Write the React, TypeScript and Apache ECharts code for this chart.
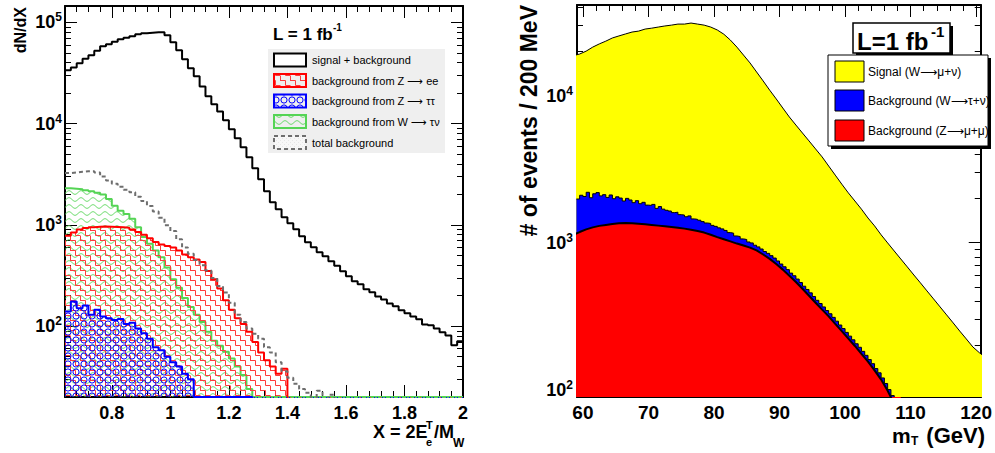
import React, { useEffect, useRef } from "react";
import * as echarts from "echarts";

const FONT = '"Liberation Sans", "DejaVu Sans", Arial, Helvetica, sans-serif';

// ---------------- Left panel: X = 2E_T/M_W, histogram bins of 0.02 starting at 0.64 ----------------
const leftBinStart = 0.64;
const leftBinWidth = 0.02;
const leftSignalBkg = [
  33600, 35900, 39400, 43700, 47200, 52400, 58000, 60700, 64300, 68000,
  70300, 72800, 76300, 77900, 78800, 79700, 79700, 74400, 63500, 52900,
  43200, 35200, 29300, 23300, 18600, 15500, 13200, 10800, 8790, 7160,
  5840, 4650, 3620, 2820, 2150, 1670, 1430, 1190, 1040, 906,
  772, 674, 601, 537, 490, 437, 395, 348, 311, 278,
  259, 231, 216, 197, 184, 168, 157, 144, 134, 125,
  117, 104, 102, 95, 87, 81, 65, 71,
];
const leftBkgZee = [
  780, 840, 900, 930, 950, 960, 965, 960, 955, 950,
  940, 900, 850, 800, 740, 680, 640, 620, 600, 560,
  510, 480, 455, 430, 350, 290, 235, 180, 145, 120,
  105, 88, 70, 55, 46, 40, 34, 38, 0, 0,
  0, 0, 0, 0, 0, 0, 0, 0, 0, 0,
  0, 0, 0, 0, 0, 0, 0, 0, 0, 0,
  0, 0, 0, 0, 0, 0, 0, 0,
];
const leftBkgZtautau = [
  140, 175, 150, 160, 130, 145, 125, 120, 115, 118,
  105, 108, 95, 85, 75, 62, 58, 50, 44, 40,
  34, 30, 20, 20, 20, 20, 20, 20, 20, 20,
  20, 20, 0, 0, 0, 0, 0, 0, 0, 0,
  0, 0, 0, 0, 0, 0, 0, 0, 0, 0,
  0, 0, 0, 0, 0, 0, 0, 0, 0, 0,
  0, 0, 0, 0, 0, 0, 0, 0,
];
const leftBkgWtaunu = [
  2300, 2280, 2250, 2200, 2150, 2080, 2000, 1800, 1550, 1380,
  1280, 1150, 950, 760, 650, 560, 480, 380, 290, 240,
  190, 155, 130, 110, 88, 72, 64, 56, 48, 40,
  33, 24, 20, 20, 20, 20, 20, 20, 20, 20,
  20, 20, 20, 20, 20, 20, 20, 20, 20, 20,
  20, 20, 20, 20, 20, 20, 20, 20, 20, 20,
  20, 20, 20, 20, 20, 20, 20, 20,
];
const leftTotalBkg = [
  3250, 3300, 3350, 3380, 3380, 3300, 3000, 2750, 2550, 2380,
  2220, 2100, 1900, 1720, 1540, 1360, 1180, 990, 870, 720,
  600, 520, 450, 400, 355, 300, 250, 215, 170, 130,
  110, 95, 84, 75, 62, 55, 44, 36, 31, 27,
  24, 22, 0, 23, 0, 21, 0, 0, 0, 0,
  0, 0, 0, 0, 0, 0, 0, 0, 0, 0,
  0, 0, 0, 0, 0, 0, 0, 0,
];
const leftXRange = [0.64, 2.0];
const leftYRange = [20, 145000];
const leftXTicks = [0.8, 1, 1.2, 1.4, 1.6, 1.8, 2];
const leftXMinorTicks = [
  0.68, 0.72, 0.76, 0.84, 0.88, 0.92, 0.96, 1.04, 1.08, 1.12, 1.16, 1.24, 1.28, 1.32,
  1.36, 1.44, 1.48, 1.52, 1.56, 1.64, 1.68, 1.72, 1.76, 1.84, 1.88, 1.92, 1.96,
];
const leftYDecades = [2, 3, 4, 5];

// ---------------- Right panel: m_T (GeV), stacked ----------------
const rightCurveStart = 58.5; // bin centres, 1 GeV apart
const rightCurveStep = 1;
const rightSignalTotal = [
  18700, 19200, 20100, 21400, 22500, 23500, 24700, 25500, 26300, 27100,
  27500, 28400, 28800, 29300, 29800, 30200, 30700, 30700, 31200, 30700,
  30200, 29300, 28000, 26200, 23900, 21400, 18900, 16700, 14500, 12600,
  10900, 9500, 8240, 7160, 6310, 5570, 4920, 4340, 3830, 3320,
  2880, 2500, 2180, 1920, 1690, 1470, 1300, 1130, 995, 877,
  774, 683, 602, 532, 469, 414, 365, 322, 284, 250,
  221, 195, 178, 165,
];
const rightBkgZmumu = [
  1130, 1180, 1230, 1270, 1300, 1320, 1340, 1355, 1360, 1355,
  1345, 1335, 1320, 1305, 1290, 1275, 1260, 1245, 1225, 1200,
  1170, 1130, 1090, 1055, 1020, 985, 955, 925, 885, 830,
  775, 715, 655, 595, 540, 485, 435, 390, 350, 315,
  280, 250, 222, 198, 175, 155, 135, 117, 98, 80,
  40,
];
const rightStackStart = 59.0; // bin edges, 0.5 GeV wide
const rightStackStep = 0.5;
const rightBkgWtaunuStacked = [
  1980, 2100, 2060, 2200, 2020, 2150, 2190, 2080, 2120, 2030,
  2110, 1990, 2050, 2010, 1920, 2000, 1950, 1870, 1930, 1840,
  1880, 1800, 1790, 1820, 1710, 1760, 1690, 1660, 1640, 1600,
  1610, 1550, 1540, 1500, 1520, 1450, 1440, 1420, 1390, 1360,
  1350, 1310, 1290, 1260, 1240, 1210, 1170, 1160, 1110, 1100,
  1060, 1050, 1010, 995, 960, 935, 905, 870, 845, 815,
  785, 750, 715, 685, 655, 620, 595, 565, 535, 505,
  480, 455, 430, 405, 385, 365, 345, 328, 310, 292,
  275, 260, 245, 231, 218, 205, 194, 182, 171, 160,
  150, 139, 130, 120, 110, 100, 91, 40,
];
const rightXRange = [59.1, 120.7];
const rightYRange = [89, 41400];
const rightXTicks = [60, 70, 80, 90, 100, 110, 120];
const rightXMinorTicks = [
  62, 64, 66, 68, 72, 74, 76, 78, 82, 84, 86, 88, 92, 94, 96, 98, 102, 104, 106, 108,
  112, 114, 116, 118,
];
const rightYDecades = [2, 3, 4];

// ---------------- helpers ----------------
const lg = (v: number) => Math.log10(v);

function minorLog(range: number[]) {
  const out: number[] = [];
  const lo = lg(range[0]);
  const hi = lg(range[1]);
  for (let d = Math.floor(lo) - 1; d <= Math.ceil(hi); d++) {
    for (let k = 2; k <= 9; k++) {
      const v = lg(k) + d;
      if (v > lo + 1e-6 && v < hi - 1e-6) out.push(v);
    }
  }
  return out;
}

function histPoints(start: number, width: number, values: number[], floor: number) {
  const toY = (v: number) => (v > 0 ? lg(v) : floor);
  const pts = values.map((v, i) => [start + i * width, toY(v)]);
  pts.push([start + values.length * width, toY(values[values.length - 1])]);
  return pts;
}

function curvePoints(start: number, width: number, values: number[]) {
  return values.map((v, i) => [start + i * width, lg(v)]);
}

function makePattern(w: number, h: number, draw: (ctx: CanvasRenderingContext2D) => void) {
  const c = document.createElement("canvas");
  c.width = w;
  c.height = h;
  const ctx = c.getContext("2d") as CanvasRenderingContext2D;
  draw(ctx);
  return { image: c, repeat: "repeat", imageWidth: w, imageHeight: h } as any;
}

const tickStyle = { color: "#000", width: 1 };

function xAxesFor(gridIndex: number, range: number[], major: number[], minor: number[], label: any) {
  const base = { type: "value", gridIndex, min: range[0], max: range[1], splitLine: { show: false } };
  return [
    {
      ...base,
      position: "bottom",
      axisLine: { show: true, onZero: false, lineStyle: { color: "#000", width: 2 } },
      axisTick: { show: true, inside: true, length: 12, customValues: major, lineStyle: tickStyle },
      axisLabel: { show: true, customValues: major, showMinLabel: true, showMaxLabel: true, ...label },
    },
    {
      ...base,
      position: "bottom",
      axisLine: { show: false, onZero: false },
      axisTick: { show: true, inside: true, length: 6, customValues: minor, lineStyle: tickStyle },
      axisLabel: { show: false },
    },
    {
      ...base,
      position: "top",
      axisLine: { show: true, onZero: false, lineStyle: { color: "#000", width: 2 } },
      axisTick: { show: true, inside: true, length: 12, customValues: major, lineStyle: tickStyle },
      axisLabel: { show: false },
    },
    {
      ...base,
      position: "top",
      axisLine: { show: false, onZero: false },
      axisTick: { show: true, inside: true, length: 6, customValues: minor, lineStyle: tickStyle },
      axisLabel: { show: false },
    },
  ];
}

function yAxesFor(gridIndex: number, range: number[], decades: number[], margin: number) {
  const lo = lg(range[0]);
  const hi = lg(range[1]);
  const minor = minorLog(range);
  const base = { type: "value", gridIndex, min: lo, max: hi, splitLine: { show: false } };
  return [
    {
      ...base,
      position: "left",
      axisLine: { show: true, onZero: false, lineStyle: { color: "#000", width: 2 } },
      axisTick: { show: true, inside: true, length: 12, customValues: decades, lineStyle: tickStyle },
      axisLabel: {
        show: true,
        customValues: decades,
        showMinLabel: true,
        showMaxLabel: true,
        margin,
        formatter: (v: number) => `{b|10}{e|${Math.round(v)}}`,
        rich: {
          b: { fontSize: 18, fontWeight: "bold", fontFamily: FONT, color: "#000", lineHeight: 22 },
          e: { fontSize: 12, fontWeight: "bold", fontFamily: FONT, color: "#000", lineHeight: 12, verticalAlign: "top" },
        },
      },
    },
    {
      ...base,
      position: "left",
      axisLine: { show: false, onZero: false },
      axisTick: { show: true, inside: true, length: 6, customValues: minor, lineStyle: tickStyle },
      axisLabel: { show: false },
    },
    {
      ...base,
      position: "right",
      axisLine: { show: true, onZero: false, lineStyle: { color: "#000", width: 2 } },
      axisTick: { show: true, inside: true, length: 12, customValues: decades, lineStyle: tickStyle },
      axisLabel: { show: false },
    },
    {
      ...base,
      position: "right",
      axisLine: { show: false, onZero: false },
      axisTick: { show: true, inside: true, length: 6, customValues: minor, lineStyle: tickStyle },
      axisLabel: { show: false },
    },
  ];
}

function txt(x: number, y: number, text: string, size: number, opts: any = {}) {
  const align = opts.align || "left";
  return {
    type: "text",
    x,
    y,
    rotation: opts.rotation || 0,
    z: 100,
    style: {
      text,
      fontSize: size,
      fontWeight: opts.bold ? "bold" : "normal",
      fontFamily: FONT,
      fill: "#000",
      align,
      textAlign: align,
      verticalAlign: "middle",
      textVerticalAlign: "middle",
    },
  };
}

export default function App() {
  const ref = useRef<HTMLDivElement>(null);

  useEffect(() => {
    if (!ref.current) return;
    const chart = echarts.init(ref.current, undefined, { renderer: "svg" });

    const redPat = makePattern(10, 10, (ctx) => {
      ctx.strokeStyle = "#ff3b3b";
      ctx.lineWidth = 1;
      ctx.beginPath();
      ctx.moveTo(0, 0.5);
      ctx.lineTo(5.5, 0.5);
      ctx.lineTo(5.5, 5.5);
      ctx.lineTo(10, 5.5);
      ctx.moveTo(0.5, 5.5);
      ctx.lineTo(0.5, 10);
      ctx.stroke();
    });
    const greenPat = makePattern(12, 7, (ctx) => {
      ctx.strokeStyle = "#55d455";
      ctx.lineWidth = 1;
      ctx.beginPath();
      for (let x = 0; x <= 12; x += 0.5) {
        const y = 3.5 + 1.8 * Math.sin((x / 12) * 2 * Math.PI);
        if (x === 0) ctx.moveTo(x, y);
        else ctx.lineTo(x, y);
      }
      ctx.stroke();
    });
    const bluePat = makePattern(8, 8, (ctx) => {
      ctx.strokeStyle = "#0000ff";
      ctx.lineWidth = 1;
      ctx.beginPath();
      ctx.arc(4, 4, 3.1, 0, Math.PI * 2);
      ctx.stroke();
    });
    const grayPat = makePattern(4, 4, (ctx) => {
      ctx.fillStyle = "#f7f7f7";
      ctx.fillRect(0, 0, 4, 4);
      ctx.fillStyle = "#e6e6e6";
      ctx.fillRect(0, 0, 1, 1);
      ctx.fillRect(2, 2, 1, 1);
    });

    const lFloor = lg(leftYRange[0]) - 1;
    const rFloor = lg(rightYRange[0]) - 1;

    const leftSeriesBase = { type: "line", xAxisIndex: 0, yAxisIndex: 0, symbol: "none", step: "end", silent: true, clip: true };
    const rightSeriesBase = { type: "line", xAxisIndex: 4, yAxisIndex: 4, symbol: "none", silent: true, clip: true };

    const series: any[] = [
      {
        ...leftSeriesBase,
        name: "background from W → τν",
        z: 2,
        data: histPoints(leftBinStart, leftBinWidth, leftBkgWtaunu, lFloor),
        lineStyle: { color: "#55d455", width: 2 },
        areaStyle: { color: greenPat, origin: "start", opacity: 1 },
      },
      {
        ...leftSeriesBase,
        name: "background from Z → ee",
        z: 3,
        data: histPoints(leftBinStart, leftBinWidth, leftBkgZee, lFloor),
        lineStyle: { color: "#ff0000", width: 2 },
        areaStyle: { color: redPat, origin: "start", opacity: 1 },
      },
      {
        ...leftSeriesBase,
        name: "background from Z → ττ",
        z: 4,
        data: histPoints(leftBinStart, leftBinWidth, leftBkgZtautau, lFloor),
        lineStyle: { color: "#0000ff", width: 2 },
        areaStyle: { color: bluePat, origin: "start", opacity: 1 },
      },
      {
        ...leftSeriesBase,
        name: "total background",
        z: 5,
        data: histPoints(leftBinStart, leftBinWidth, leftTotalBkg, lFloor),
        lineStyle: { color: "#6e6e6e", width: 2, type: [4, 3] },
      },
      {
        ...leftSeriesBase,
        name: "signal + background",
        z: 6,
        data: histPoints(leftBinStart, leftBinWidth, leftSignalBkg, lFloor),
        lineStyle: { color: "#000", width: 2 },
      },
      {
        ...rightSeriesBase,
        name: "Signal (W→μ+ν)",
        z: 2,
        data: curvePoints(rightCurveStart, rightCurveStep, rightSignalTotal),
        lineStyle: { color: "#000", width: 1 },
        areaStyle: { color: "#ffff00", origin: "start", opacity: 1 },
      },
      {
        ...rightSeriesBase,
        name: "Background (W→τ+ν)",
        z: 3,
        step: "end",
        data: histPoints(rightStackStart, rightStackStep, rightBkgWtaunuStacked, rFloor),
        lineStyle: { color: "#000", width: 1 },
        areaStyle: { color: "#0000ff", origin: "start", opacity: 1 },
      },
      {
        ...rightSeriesBase,
        name: "Background (Z→μ+μ)",
        z: 4,
        data: curvePoints(rightCurveStart, rightCurveStep, rightBkgZmumu),
        lineStyle: { color: "#000", width: 2 },
        areaStyle: { color: "#ff0000", origin: "start", opacity: 1 },
      },
    ];

    const xLabelLeft = {
      margin: 7,
      fontSize: 18,
      fontWeight: "bold",
      fontFamily: FONT,
      color: "#000",
      formatter: (v: number) => String(Number(v.toFixed(2))),
    };
    const xLabelRight = {
      margin: 6,
      fontSize: 19,
      fontWeight: "bold",
      fontFamily: FONT,
      color: "#000",
      formatter: (v: number) => String(Math.round(v)),
    };

    const legendRowsY = [60, 80.5, 101, 121.5, 142.5];
    const graphic: any[] = [
      // left legend
      { type: "rect", z: 90, shape: { x: 268, y: 49, width: 177, height: 104 }, style: { fill: "#efefef" } },
      txt(273, 34, "L = 1 fb", 17, { bold: true }),
      txt(333, 27, "-1", 10, { bold: true }),
      { type: "rect", z: 100, shape: { x: 274, y: legendRowsY[0] - 6.5, width: 32, height: 13 }, style: { fill: "#fff", stroke: "#000", lineWidth: 2 } },
      { type: "rect", z: 100, shape: { x: 274, y: legendRowsY[1] - 6.5, width: 32, height: 13 }, style: { fill: redPat, stroke: "#ff0000", lineWidth: 2 } },
      { type: "rect", z: 100, shape: { x: 274, y: legendRowsY[2] - 6.5, width: 32, height: 13 }, style: { fill: bluePat, stroke: "#0000ff", lineWidth: 2 } },
      { type: "rect", z: 100, shape: { x: 274, y: legendRowsY[3] - 6.5, width: 32, height: 13 }, style: { fill: greenPat, stroke: "#55d455", lineWidth: 2 } },
      { type: "rect", z: 100, shape: { x: 274, y: legendRowsY[4] - 6.5, width: 32, height: 13 }, style: { fill: grayPat, stroke: "#6e6e6e", lineWidth: 2, lineDash: [4, 3] } },
      txt(312, legendRowsY[0], "signal + background", 11),
      txt(312, legendRowsY[1], "background from Z ⟶ ee", 11),
      txt(312, legendRowsY[2], "background from Z ⟶ ττ", 11),
      txt(312, legendRowsY[3], "background from W ⟶ τν", 11),
      txt(312, legendRowsY[4], "total background", 11),
      // left axis titles
      txt(20, 7, "dN/dX", 16, { bold: true, align: "right", rotation: Math.PI / 2 }),
      txt(373, 432, "X = 2E", 18, { bold: true }),
      txt(426, 425, "T", 11, { bold: true }),
      txt(426, 442, "e", 11, { bold: true }),
      txt(434, 432, "/M", 18, { bold: true }),
      txt(453, 443, "W", 12, { bold: true }),
      // right legend
      { type: "rect", z: 95, shape: { x: 856, y: 26, width: 97, height: 30 }, style: { fill: "#000" } },
      { type: "rect", z: 96, shape: { x: 853, y: 23, width: 97, height: 30 }, style: { fill: "#fff", stroke: "#000", lineWidth: 1.5 } },
      txt(857, 41, "L=1 fb", 24, { bold: true }),
      txt(931, 31, "-1", 15, { bold: true }),
      { type: "rect", z: 95, shape: { x: 831, y: 58, width: 160, height: 91 }, style: { fill: "#000" } },
      { type: "rect", z: 96, shape: { x: 828, y: 55, width: 160, height: 91 }, style: { fill: "#fff", stroke: "#000", lineWidth: 1 } },
      { type: "rect", z: 100, shape: { x: 835, y: 61, width: 29, height: 21 }, style: { fill: "#ffff00", stroke: "#000", lineWidth: 1 } },
      { type: "rect", z: 100, shape: { x: 835, y: 90, width: 29, height: 21 }, style: { fill: "#0000ff", stroke: "#000", lineWidth: 1 } },
      { type: "rect", z: 100, shape: { x: 835, y: 120, width: 29, height: 21 }, style: { fill: "#ff0000", stroke: "#000", lineWidth: 1 } },
      txt(868, 72, "Signal (W⟶μ+ν)", 12),
      txt(868, 101, "Background (W⟶τ+ν)", 12),
      txt(868, 131, "Background (Z⟶μ+μ)", 12),
      // right axis titles
      txt(529, 5, "# of events / 200 MeV", 23, { bold: true, align: "right", rotation: Math.PI / 2 }),
      txt(892, 435, "m", 21, { bold: true }),
      txt(911, 441, "T", 12, { bold: true }),
      txt(985, 435, "(GeV)", 22, { bold: true, align: "right" }),
    ];

    chart.setOption({
      animation: false,
      backgroundColor: "#fff",
      grid: [
        { left: 65, top: 6, width: 398, height: 391, containLabel: false },
        { left: 577, top: 5, width: 407, height: 392, containLabel: false },
      ],
      xAxis: [
        ...xAxesFor(0, leftXRange, leftXTicks, leftXMinorTicks, xLabelLeft),
        ...xAxesFor(1, rightXRange, rightXTicks, rightXMinorTicks, xLabelRight),
      ],
      yAxis: [...yAxesFor(0, leftYRange, leftYDecades, 3), ...yAxesFor(1, rightYRange, rightYDecades, 4)],
      series,
      graphic,
    });

    return () => chart.dispose();
  }, []);

  return (
    <div
      ref={ref}
      style={{ position: "fixed", left: 0, top: 0, width: 995, height: 453, background: "#fff" }}
    />
  );
}
